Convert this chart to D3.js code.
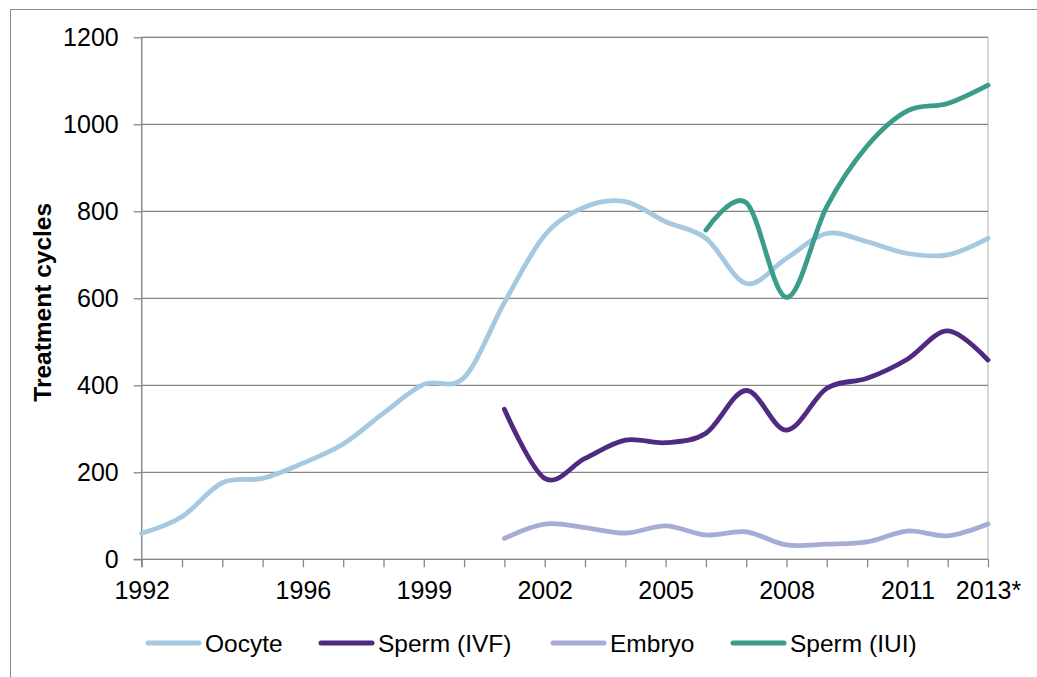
<!DOCTYPE html>
<html>
<head>
<meta charset="utf-8">
<script src="https://cdn.jsdelivr.net/npm/d3@7"></script>
<style>
  body { margin: 0; background: #fff; }
  text { font-family: "Liberation Sans", Arial, sans-serif; fill: #000; }
</style>
</head>
<body>
<div id="chart"></div>
<script>
// categories
var years = ["1992", "1993", "1994", "1995", "1996", "1997", "1998", "1999", "2000", "2001", "2002",
  "2003", "2004", "2005", "2006", "2007", "2008", "2009", "2010", "2011", "2012", "2013*"];
var shownLabels = ["1992", "1996", "1999", "2002", "2005", "2008", "2011", "2013*"];
var yTicks = [0, 200, 400, 600, 800, 1000, 1200];

// series values (null = no data that year)
var oocyte = [60, 98, 176, 186, 221, 265, 336, 402, 418, 590, 745, 810, 822, 776, 738, 634, 692, 749, 730, 703, 700, 738];
var spermIVF = [null, null, null, null, null, null, null, null, null, 345, 186, 232, 274, 268, 290, 388, 297, 393, 416, 460, 525, 458];
var embryo = [null, null, null, null, null, null, null, null, null, 48, 81, 73, 60, 77, 56, 63, 33, 35, 40, 65, 54, 81];
var spermIUI = [null, null, null, null, null, null, null, null, null, null, null, null, null, null, 757, 820, 602, 811, 950, 1031, 1048, 1090];

var seriesNames = ["Oocyte", "Sperm (IVF)", "Embryo", "Sperm (IUI)"];
var seriesValues = [oocyte, spermIVF, embryo, spermIUI];
var colors = ["#a6c9e2", "#4e2a80", "#a7acd7", "#3a9c8a"];

var width = 1037, height = 677;
var plotLeft = 141.7, plotRight = 988, plotTop = 37.3, plotBottom = 559.3;

var svg = d3.select("#chart").append("svg")
  .attr("width", width)
  .attr("height", height);

/* outer chart border */
svg.append("rect")
  .attr("x", 10.5).attr("y", 9.5)
  .attr("width", width + 10).attr("height", height + 10)
  .attr("fill", "none")
  .attr("stroke", "#8c8c8c")
  .attr("stroke-width", 1);

/* Scale */
var x = d3.scalePoint().domain(years).range([plotLeft, plotRight]);
var y = d3.scaleLinear().domain([0, 1200]).range([plotBottom, plotTop]);

/* plot area border (light) */
svg.append("rect")
  .attr("x", plotLeft).attr("y", plotTop)
  .attr("width", plotRight - plotLeft).attr("height", plotBottom - plotTop)
  .attr("fill", "none")
  .attr("stroke", "#c0c0c0")
  .attr("stroke-width", 1.2);

/* gridlines */
svg.append("g")
  .selectAll("line")
  .data(yTicks.slice(1)).enter()
  .append("line")
  .attr("x1", plotLeft).attr("x2", plotRight)
  .attr("y1", d => y(d)).attr("y2", d => y(d))
  .attr("stroke", "#868686")
  .attr("stroke-width", 1.3);

/* Axes */
var yAxis = d3.axisLeft(y).tickValues(yTicks).tickFormat(d3.format("d")).tickSize(8).tickPadding(15);
var gy = svg.append("g")
  .attr("transform", `translate(${plotLeft}, 0)`)
  .call(yAxis);
gy.select(".domain").remove();
gy.append("line")
  .attr("x1", 0).attr("x2", 0)
  .attr("y1", plotTop).attr("y2", plotBottom + 8)
  .attr("stroke", "#868686").attr("stroke-width", 1.3);
gy.selectAll(".tick line").attr("stroke", "#868686").attr("stroke-width", 1.3);
gy.selectAll(".tick text")
  .style("font-size", "25px")
  .style("font-family", "'Liberation Sans', Arial, sans-serif")
  .attr("fill", "#000");

var xAxis = d3.axisBottom(x)
  .tickSize(8)
  .tickPadding(14)
  .tickFormat(d => shownLabels.indexOf(d) >= 0 ? d : "");
var gx = svg.append("g")
  .attr("transform", `translate(0, ${plotBottom})`)
  .call(xAxis);
gx.select(".domain").remove();
gx.append("line")
  .attr("x1", plotLeft - 8).attr("x2", plotRight)
  .attr("y1", 0).attr("y2", 0)
  .attr("stroke", "#868686").attr("stroke-width", 1.3);
gx.selectAll(".tick line").attr("stroke", "#868686").attr("stroke-width", 1.3);
gx.selectAll(".tick text")
  .style("font-size", "25px")
  .style("font-family", "'Liberation Sans', Arial, sans-serif")
  .attr("fill", "#000");

/* y axis title */
svg.append("text")
  .attr("transform", `translate(50.5, ${(plotTop + plotBottom) / 2 + 4}) rotate(-90)`)
  .attr("text-anchor", "middle")
  .style("font-size", "24.5px")
  .style("font-weight", "bold")
  .text("Treatment cycles");

/* Lines */
var line = d3.line()
  .defined(d => d.v != null)
  .x(d => x(d.year))
  .y(d => y(d.v))
  .curve(d3.curveCardinal.tension(0));

svg.append("g")
  .selectAll("path")
  .data(seriesValues).enter()
  .append("path")
  .attr("fill", "none")
  .attr("stroke", (d, i) => colors[i])
  .attr("stroke-width", 4.8)
  .attr("stroke-linecap", "round")
  .attr("stroke-linejoin", "round")
  .attr("d", vals => line(vals.map((v, i) => ({ year: years[i], v: v }))));

/* Legend */
var legendX = [148, 321, 553, 733];
var legend = svg.append("g")
  .selectAll("g")
  .data(seriesNames).enter()
  .append("g")
  .attr("transform", (d, i) => `translate(${legendX[i]}, 643)`);
legend.append("line")
  .attr("x1", 0).attr("x2", 51)
  .attr("stroke", (d, i) => colors[i])
  .attr("stroke-width", 5)
  .attr("stroke-linecap", "round");
legend.append("text")
  .attr("x", 57)
  .attr("y", 8.5)
  .style("font-size", "24.5px")
  .text(d => d);
</script>
</body>
</html>
